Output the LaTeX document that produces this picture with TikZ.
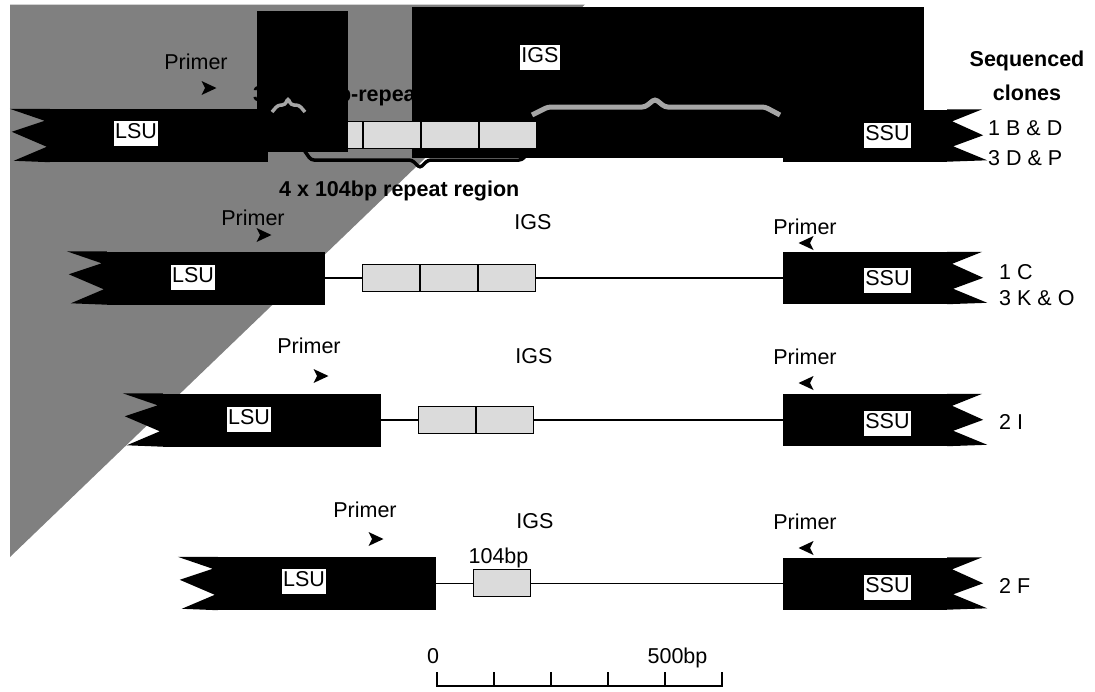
\documentclass[tikz,border=0pt]{standalone}
\usepackage{fontspec}
\setmainfont{Liberation Sans}
\newcommand\LeftNotch[1]{\fill (#1.north west) -- ++(-40,0) -- ++(35,12) -- ++(-33,11) -- ++(35,15) -- ++(-33,14) -- (#1.south west) -- cycle;}
\newcommand\RightNotch[1]{\fill (#1.north east) -- ++(35,0) -- ++(-30,12) -- ++(31,14) -- ++(-30,11) -- ++(34,14) -- (#1.south east) -- cycle;}
\begin{document}
\begin{tikzpicture}[x=1pt,y=-1pt,
  font=\fontsize{21.5}{24}\selectfont,
  body/.style={fill=black, inner sep=0pt, minimum width=218pt, minimum height=53pt},
  sbody/.style={fill=black, inner sep=0pt, minimum width=164pt, minimum height=52pt},
  tag/.style={fill=white, inner xsep=1pt, inner ysep=2pt, text height=15.5pt, text depth=5.5pt},
  rep/.style={draw=black, line width=1.3pt, fill=black!14, inner sep=0pt, minimum width=56.7pt, minimum height=27pt},
  link/.style={line width=1.3pt},
  txt/.style={inner sep=0pt, anchor=base},
  btxt/.style={inner sep=0pt, font=\fontsize{21.5}{24}\selectfont\bfseries},
  block/.style={fill=black, inner sep=0pt, anchor=north west},
  gbrace/.style={draw=black!35, line width=5pt, rounded corners=3pt},
  kbrace/.style={draw=black, line width=3.5pt, rounded corners=3pt},
  fwd/.pic={\fill (7.5,0) -- (-7.5,-7) -- (-4,0) -- (-7.5,7) -- cycle;},
  rev/.pic={\fill (-7.5,0) -- (7.5,-7) -- (4,0) -- (7.5,7) -- cycle;},
]
\useasboundingbox (0,0) rectangle (1095,691);
% grey background triangle
\fill[black!50] (10,4.5) -- (585,4.5) -- (10,557) -- cycle;

% ---------- Row 1 ----------
\node[body] (lsu1) at (159,135.5) {};
\LeftNotch{lsu1}
\node[btxt, anchor=base west] (hidtxt) at (253,101) {3 x 104bp-repeat region};
\node[sbody] (ssu1) at (865,135.5) {};
\RightNotch{ssu1}
\draw[link] (lsu1.east) -- (ssu1.west);
\node[block, minimum width=512pt, minimum height=151pt] (igsblock) at (412,6.5) {};
\node[rep, anchor=west] (r11) at (305,135) {};
\node[rep, anchor=west] (r12) at (r11.east) {};
\node[rep, anchor=west] (r13) at (r12.east) {};
\node[rep, anchor=west] (r14) at (r13.east) {};
\node[block, minimum width=91pt, minimum height=141pt] (smallblock) at (257,11) {};
\draw[gbrace, line width=3.5pt] (272,112) -- (278,105) -- (285,105) -- (288,98) -- (291,105) -- (299,105) -- (305,112);
\draw[gbrace] (532,115) -- (548,107) -- (645,107) -- (655,99) -- (665,107) -- (765,107) -- (780,115);
\draw[kbrace] (304,150) -- (311,160) -- (412,160) -- (420,168) -- (428,160) -- (522,160) -- (530,150);
\node[btxt, anchor=base west] (rep4) at (279,196) {4 x 104bp repeat region};
\node[tag] (lsu1t) at (136,133) {LSU};
\node[tag] (ssu1t) at (887.5,135) {SSU};
\node[tag] (igs1) at (540,57) {IGS};
\node[txt] (pr1) at (196,69) {Primer};
\pic at (209,88) {fwd};
\node[btxt, anchor=base] (seq) at (1027,66) {Sequenced};
\node[btxt, anchor=base] (clo) at (1027,100) {clones};
\node[txt, anchor=base west] (c1a) at (988,135) {1 B \& D};
\node[txt, anchor=base west] (c1b) at (988,165) {3 D \& P};

% ---------- Row 2 ----------
\node[body] (lsu2) at (216,278) {};
\LeftNotch{lsu2}
\node[sbody] (ssu2) at (865,278) {};
\RightNotch{ssu2}
\draw[link] (lsu2.east) -- (ssu2.west);
\node[rep, anchor=west] (r21) at (362,278) {};
\node[rep, anchor=west] (r22) at (r21.east) {};
\node[rep, anchor=west] (r23) at (r22.east) {};
\node[tag] (lsu2t) at (193,277) {LSU};
\node[tag] (ssu2t) at (887.5,280) {SSU};
\node[txt] (igs2) at (533,229) {IGS};
\node[txt] (pr2) at (253,225) {Primer};
\pic at (264,235) {fwd};
\node[txt] (pr2r) at (805,234) {Primer};
\pic at (806,243) {rev};
\node[txt, anchor=base west] (c2a) at (999,279) {1 C};
\node[txt, anchor=base west] (c2b) at (999,305) {3 K \& O};

% ---------- Row 3 ----------
\node[body] (lsu3) at (272,420) {};
\LeftNotch{lsu3}
\node[sbody] (ssu3) at (865,420) {};
\RightNotch{ssu3}
\draw[link] (lsu3.east) -- (ssu3.west);
\node[rep, anchor=west] (r31) at (418,420) {};
\node[rep, anchor=west] (r32) at (r31.east) {};
\node[tag] (lsu3t) at (249,419) {LSU};
\node[tag] (ssu3t) at (887.5,423) {SSU};
\node[txt] (igs3) at (534,363) {IGS};
\node[txt] (pr3) at (309,353) {Primer};
\pic at (321,376) {fwd};
\node[txt] (pr3r) at (805,364) {Primer};
\pic at (806,383) {rev};
\node[txt, anchor=base west] (c3) at (999,429) {2 I};

% ---------- Row 4 ----------
\node[body] (lsu4) at (327,583.5) {};
\LeftNotch{lsu4}
\node[sbody] (ssu4) at (865,583.5) {};
\RightNotch{ssu4}
\draw[link] (lsu4.east) -- (ssu4.west);
\node[rep, anchor=west] (r41) at (473,583) {};
\node[txt] (bp104) at (498.5,563) {104bp};
\node[tag] (lsu4t) at (304,581.5) {LSU};
\node[tag] (ssu4t) at (887.5,587) {SSU};
\node[txt] (igs4) at (535,528) {IGS};
\node[txt] (pr4) at (365,517) {Primer};
\pic at (376,539) {fwd};
\node[txt] (pr4r) at (805,529) {Primer};
\pic at (806,548) {rev};
\node[txt, anchor=base west] (c4) at (999,593) {2 F};

% ---------- scale bar ----------
\draw[line width=1.3pt] (437,686) -- (722,686);
\foreach \t in {437,494,551,608,665,722} \draw[line width=1.3pt] (\t,672) -- (\t,686.6);
\node[txt] (s0) at (433,663) {0};
\node[txt] (s500) at (677.5,663) {500bp};
\end{tikzpicture}
\end{document}
